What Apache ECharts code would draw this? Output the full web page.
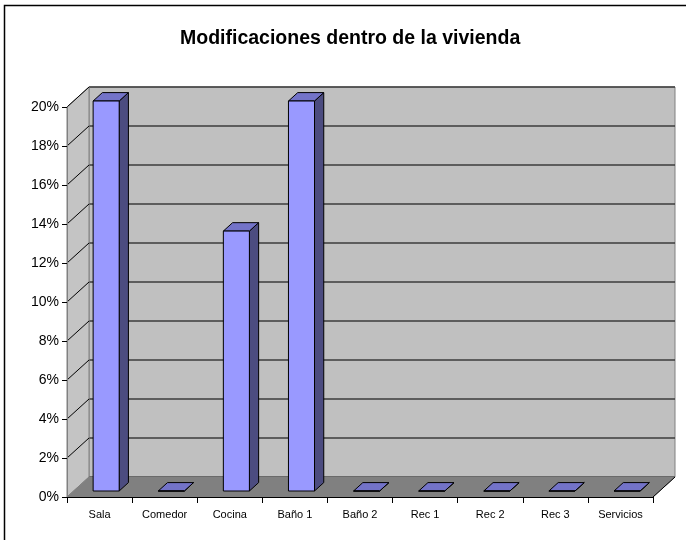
<!DOCTYPE html>
<html>
<head>
<meta charset="utf-8">
<script src="https://cdn.jsdelivr.net/npm/echarts@6/dist/echarts.min.js"></script>
<style>
  html, body { margin: 0; padding: 0; background: #fff; }
  #chart { width: 686px; height: 540px; }
</style>
</head>
<body>
<div id="chart"></div>
<script>
  const categories = ['Sala', 'Comedor', 'Cocina', 'Baño 1', 'Baño 2', 'Rec 1', 'Rec 2', 'Rec 3', 'Servicios'];
  const values = [20, 0, 13.33, 20, 0, 0, 0, 0, 0];
  const yTicks = [0, 2, 4, 6, 8, 10, 12, 14, 16, 18, 20];

  // 3d depth offset (pixels) between front axis plane and back wall
  const DX = 22, DY = -20;
  const F1 = 0.3, F2 = 0.72;

  const myCharts = echarts.init(document.getElementById('chart'));

  function wallsItem(params, api) {
    const cs = params.coordSys;
    const x0 = cs.x, x1 = cs.x + cs.width;
    const yb = api.coord([0, 0])[1];
    const yt = api.coord([0, yTicks[yTicks.length - 1]])[1];
    const children = [];
    // left side wall
    children.push({
      type: 'polygon',
      shape: { points: [[x0, yb], [x0, yt], [x0 + DX, yt + DY], [x0 + DX, yb + DY]] },
      style: { fill: '#c4c4c4', stroke: '#808080', lineWidth: 1 }
    });
    // floor
    children.push({
      type: 'polygon',
      shape: { points: [[x0, yb], [x1, yb], [x1 + DX, yb + DY], [x0 + DX, yb + DY]] },
      style: { fill: '#808080', stroke: '#808080', lineWidth: 1 }
    });
    // diagonal tick lines on the side wall
    yTicks.forEach(function (t) {
      if (t === 0) return;
      const y = api.coord([0, t])[1];
      children.push({
        type: 'line',
        shape: { x1: x0, y1: y, x2: x0 + DX, y2: y + DY },
        style: { stroke: '#000', lineWidth: 1 }
      });
    });
    // floor right edge
    children.push({
      type: 'line',
      shape: { x1: x1, y1: yb, x2: x1 + DX, y2: yb + DY },
      style: { stroke: '#000', lineWidth: 1 }
    });
    return { type: 'group', children: children };
  }

  function barItem(params, api) {
    const idx = api.value(0);
    const val = api.value(1);
    const base = api.coord([idx, 0]);
    const top = api.coord([idx, val]);
    const bw = api.size([1, 0])[0] * 0.4;
    const lx = base[0] - bw / 2 + F1 * DX;
    const rx = lx + bw;
    const by = base[1] + F1 * DY;
    const ty = top[1] + F1 * DY;
    const ddx = (F2 - F1) * DX, ddy = (F2 - F1) * DY;
    const line = { stroke: '#000', lineWidth: 1, lineJoin: 'round' };
    return {
      type: 'group',
      children: [
        {
          type: 'polygon',
          shape: { points: [[rx, by], [rx, ty], [rx + ddx, ty + ddy], [rx + ddx, by + ddy]] },
          style: Object.assign({ fill: '#4c4c80' }, line)
        },
        {
          type: 'polygon',
          shape: { points: [[lx, ty], [rx, ty], [rx + ddx, ty + ddy], [lx + ddx, ty + ddy]] },
          style: Object.assign({ fill: '#7373c8' }, line)
        },
        {
          type: 'rect',
          shape: { x: lx, y: ty, width: bw, height: by - ty },
          style: Object.assign({ fill: '#9999ff' }, line)
        }
      ]
    };
  }

  const option = {
    animation: false,
    title: {
      text: 'Modificaciones dentro de la vivienda',
      left: 175,
      top: 24,
      textStyle: { fontFamily: 'Liberation Sans', fontSize: 19.5, fontWeight: 'bold', color: '#000' }
    },
    graphic: [
      {
        type: 'rect',
        shape: { x: 4.5, y: 5.5, width: 720, height: 560 },
        style: { fill: 'none', stroke: '#000', lineWidth: 1.5 },
        silent: true
      }
    ],
    grid: [
      { left: 67, right: 33, top: 107, bottom: 43 },
      {
        left: 89, right: 11, top: 87, bottom: 63,
        show: true, backgroundColor: '#c0c0c0', borderColor: '#808080', borderWidth: 1
      }
    ],
    xAxis: [
      {
        type: 'category',
        gridIndex: 0,
        data: categories,
        axisLine: { lineStyle: { color: '#000' } },
        axisTick: { show: true, length: 6, lineStyle: { color: '#000' } },
        axisLabel: { color: '#000', fontFamily: 'Liberation Sans', fontSize: 11, margin: 12 },
        splitLine: { show: false },
        z: 5
      },
      {
        type: 'category',
        gridIndex: 1,
        data: categories,
        show: false
      }
    ],
    yAxis: [
      {
        type: 'value',
        gridIndex: 0,
        min: 0,
        max: 20,
        interval: 2,
        axisLine: { show: true, lineStyle: { color: '#808080' } },
        axisTick: { show: true, length: 5, lineStyle: { color: '#000' } },
        axisLabel: { color: '#000', fontFamily: 'Liberation Sans', fontSize: 14, margin: 8, formatter: '{value}%' },
        splitLine: { show: false },
        z: 5
      },
      {
        type: 'value',
        gridIndex: 1,
        min: 0,
        max: 20,
        interval: 2,
        axisLine: { show: false },
        axisTick: { show: false },
        axisLabel: { show: false },
        splitLine: { show: true, lineStyle: { color: '#3c3c3c', width: 1.5 } }
      }
    ],
    series: [
      {
        name: 'walls',
        type: 'custom',
        xAxisIndex: 0,
        yAxisIndex: 0,
        renderItem: wallsItem,
        data: [[0, 0]],
        silent: true,
        z: 1
      },
      {
        name: 'Modificaciones',
        type: 'custom',
        xAxisIndex: 0,
        yAxisIndex: 0,
        renderItem: barItem,
        data: values.map(function (v, i) { return [i, v]; }),
        z: 3
      }
    ]
  };

  myCharts.setOption(option);
</script>
</body>
</html>
